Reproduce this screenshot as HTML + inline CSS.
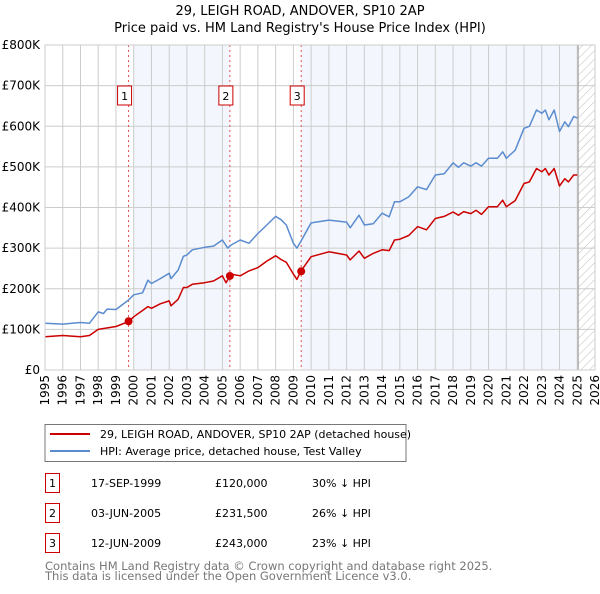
<!DOCTYPE html>
<html><head><meta charset="utf-8"><style>
body{margin:0;background:#fff;width:600px;height:590px;overflow:hidden;font-family:"DejaVu Sans","Liberation Sans",sans-serif;}
svg text{font-family:"DejaVu Sans","Liberation Sans",sans-serif;}
</style></head><body>
<svg id="c" width="600" height="590" xmlns="http://www.w3.org/2000/svg">
<defs><pattern id="hatch" width="6" height="6" patternUnits="userSpaceOnUse" patternTransform="rotate(45)"><line x1="0" y1="0" x2="0" y2="6" stroke="#bbb" stroke-width="1"/></pattern></defs>
<text x="300" y="15" text-anchor="middle" font-size="13">29, LEIGH ROAD, ANDOVER, SP10 2AP</text>
<text x="300" y="32" text-anchor="middle" font-size="13">Price paid vs. HM Land Registry's House Price Index (HPI)</text>
<g id="plot"></g>
<rect x="45" y="424.5" width="361" height="37" fill="#fff" stroke="#777"/>
<line x1="50" y1="434" x2="90" y2="434" stroke="#cc0000" stroke-width="2"/>
<text x="100" y="438" font-size="11">29, LEIGH ROAD, ANDOVER, SP10 2AP (detached house)</text>
<line x1="50" y1="451" x2="90" y2="451" stroke="#5b8ccf" stroke-width="2"/>
<text x="100" y="455" font-size="11">HPI: Average price, detached house, Test Valley</text>
<g id="table" font-size="11"></g>
<text x="45" y="570" font-size="11.5" fill="#777">Contains HM Land Registry data © Crown copyright and database right 2025.</text>
<text x="45" y="580" font-size="11.5" fill="#777">This data is licensed under the Open Government Licence v3.0.</text>
</svg>
<script>
const hpiYears=[1995,1996,1997,1997.5,1998,1998.3,1998.5,1999,1999.7,2000,2000.5,2000.8,2001,2001.5,2002,2002.1,2002.5,2002.8,2003,2003.3,2004,2004.5,2005,2005.3,2005.5,2006,2006.5,2007,2007.5,2008,2008.3,2008.6,2009,2009.2,2009.4,2010,2011,2012,2012.2,2012.7,2013,2013.5,2014,2014.4,2014.7,2015,2015.5,2016,2016.5,2017,2017.5,2018,2018.3,2018.6,2019,2019.3,2019.6,2020,2020.5,2020.8,2021,2021.5,2022,2022.3,2022.7,2023,2023.2,2023.4,2023.7,2024,2024.3,2024.5,2024.8,2025];
const hpiValues=[115,113,117,115,143,139,150,149,172,185,190,221,213,225,238,225,246,280,283,296,302,305,320,300,308,320,312,336,357,378,370,357,312,300,315,362,369,364,350,381,357,360,386,377,414,414,426,451,444,480,483,510,499,510,502,510,502,521,521,537,521,541,595,600,640,632,640,616,640,587,611,599,624,620];
const propYears=[1995,1996,1997,1997.5,1998,1999,1999.7,2000,2000.8,2001,2001.5,2002,2002.1,2002.5,2002.8,2003,2003.3,2004,2004.5,2005,2005.2,2005.5,2006,2006.5,2007,2007.5,2008,2008.3,2008.6,2009,2009.2,2009.4,2010,2011,2012,2012.2,2012.7,2013,2013.5,2014,2014.4,2014.7,2015,2015.5,2016,2016.5,2017,2017.5,2018,2018.3,2018.6,2019,2019.3,2019.6,2020,2020.5,2020.8,2021,2021.5,2022,2022.3,2022.7,2023,2023.2,2023.4,2023.7,2024,2024.3,2024.5,2024.8,2025];
const propValues=[82,85,82,85,100,107,119,131,156,152,163,170,158,174,203,203,211,215,219,232,215,236,232,244,252,268,281,272,265,236,223,242,279,291,283,271,293,275,287,296,294,320,322,331,353,345,373,378,389,381,390,385,393,383,402,402,418,402,417,459,463,496,488,496,480,496,453,471,463,480,480];
const saleYears=[1999.71,2005.42,2009.44];
const saleValues=[120,231.5,243];
const saleLabels=["1","2","3"];
const saleDates=["17-SEP-1999","03-JUN-2005","12-JUN-2009"];
const salePrices=["£120,000","£231,500","£243,000"];
const saleDiffs=["30% ↓ HPI","26% ↓ HPI","23% ↓ HPI"];
const yTicks=[0,100,200,300,400,500,600,700,800];
const yTickLabels=["£0","£100K","£200K","£300K","£400K","£500K","£600K","£700K","£800K"];
const xTicks=[1995,1996,1997,1998,1999,2000,2001,2002,2003,2004,2005,2006,2007,2008,2009,2010,2011,2012,2013,2014,2015,2016,2017,2018,2019,2020,2021,2022,2023,2024,2025,2026];
const NS="http://www.w3.org/2000/svg";
const X0=45,X1=595,Y0=370,Y1=45;
function xs(y){return X0+(y-1995)/31*(X1-X0);}
function ys(v){return Y0-v/800*(Y0-Y1);}
const plot=document.getElementById('plot');
function mk(tag,attrs,parent){const e=document.createElementNS(NS,tag);for(const k in attrs)e.setAttribute(k,attrs[k]);(parent||plot).appendChild(e);return e;}
// shaded spans
let s1=mk('rect',{x:xs(2000),y:Y1,width:xs(saleYears[1])-xs(2000),height:Y0-Y1,fill:'#eef3fc',opacity:0.7});


let s2=mk('rect',{x:xs(saleYears[2]),y:Y1,width:xs(2025.05)-xs(saleYears[2]),height:Y0-Y1,fill:'#eef3fc',opacity:0.7});


let hz=mk('rect',{x:xs(2025.05),y:Y1,width:X1-xs(2025.05),height:Y0-Y1,fill:'url(#hatch)'});


// grid
yTicks.forEach((t,i)=>{
 let g=mk('line',{x1:X0,x2:X1,y1:ys(t),y2:ys(t),stroke:'#ccc','stroke-width':1});
 
 
 let tx=mk('text',{x:X0-5,y:ys(t)+4,'text-anchor':'end','font-size':12});
 tx.textContent=yTickLabels[i];
 
 
});
xTicks.forEach(t=>{
 let g=mk('line',{x1:xs(t),x2:xs(t),y1:Y1,y2:Y0,stroke:'#ccc','stroke-width':1});
 
 
 let tx=mk('text',{x:0,y:0,'text-anchor':'end','font-size':12,transform:`translate(${xs(t)+4},${Y0+5}) rotate(-90)`});
 tx.textContent=t;
 
 
});
let vl=mk('line',{x1:xs(2025.05),x2:xs(2025.05),y1:Y1,y2:Y0,stroke:'#999','stroke-width':1});


// sale markers
saleYears.forEach((y,i)=>{
 let l=mk('line',{x1:xs(y),x2:xs(y),y1:Y1,y2:Y0,stroke:'#e05050','stroke-width':1,'stroke-dasharray':'2,3'});
 
 
 let b=mk('rect',{x:xs(y)-11,y:86,width:14,height:19,fill:'#fff',stroke:'#cc0000'});
 
 
 let t=mk('text',{x:xs(y)-4,y:100,'text-anchor':'middle','font-size':11});
 t.textContent=saleLabels[i];
 
 
});
function line(xa,va,col,name){
 let d=xa.map((x,i)=>(i?'L':'M')+xs(x).toFixed(1)+','+ys(va[i]).toFixed(1)).join('');
 let p=mk('path',{d:d,fill:'none',stroke:col,'stroke-width':1.5,'stroke-linejoin':'round'});
 
 
}
line(hpiYears,hpiValues,'#5b8ccf','hpi-line');
line(propYears,propValues,'#cc0000','property-line');
saleYears.forEach((y,i)=>{
 let c=mk('circle',{cx:xs(y),cy:ys(saleValues[i]),r:4,fill:'#cc0000'});
 
 
});
let ax=mk('rect',{x:X0,y:Y1,width:X1-X0,height:Y0-Y1,fill:'none',stroke:'#ccc'});


// table
const tb=document.getElementById('table');
const rowY=[483,513,543];
saleLabels.forEach((l,i)=>{
 let b=mk('rect',{x:45.5,y:rowY[i]-9.5,width:14,height:19,fill:'#fff',stroke:'#cc0000'},tb);
 
 
 const cells=[[52.5,l,'middle'],[91,saleDates[i],'start'],[215,salePrices[i],'start'],[312,saleDiffs[i],'start']];
 cells.forEach(c=>{
  let t=mk('text',{x:c[0],y:rowY[i]+4,'text-anchor':c[2]},tb);
  t.textContent=c[1];
  
  
 });
});
</script>
</body></html>
